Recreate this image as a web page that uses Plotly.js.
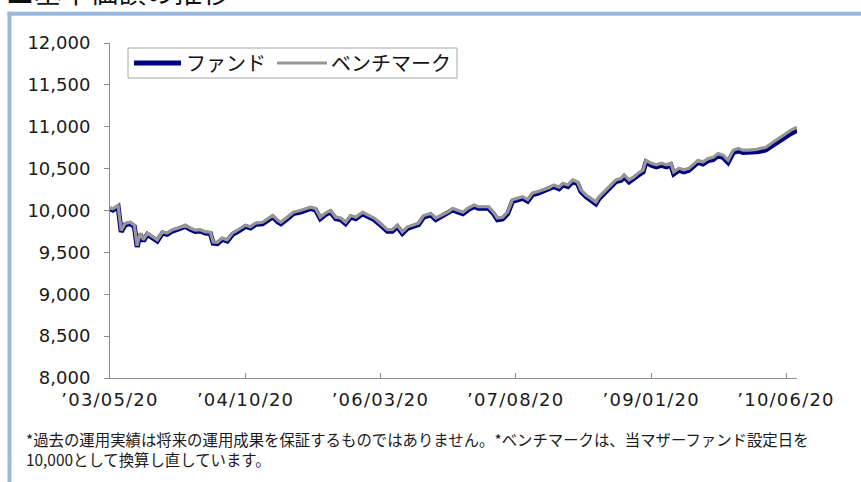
<!DOCTYPE html>
<html>
<head>
<meta charset="utf-8">
<script src="https://cdn.plot.ly/plotly-3.0.1.min.js"></script>
<style>
  html, body { margin: 0; padding: 0; background: #ffffff; }
  #chart { width: 861px; height: 482px; }
  .xtick text { letter-spacing: 1.2px; }
</style>
</head>
<body>
<div id="chart"></div>
<script>
// ---- data ----
const dates = [
"2003-05-20","2003-05-31","2003-06-20","2003-07-02","2003-07-17","2003-08-05","2003-08-21","2003-09-01","2003-09-12","2003-09-25",
"2003-10-10","2003-10-29","2003-11-17","2003-12-07","2003-12-25","2004-01-14","2004-02-06","2004-03-04","2004-03-22","2004-04-10",
"2004-04-30","2004-05-19","2004-06-07","2004-06-18","2004-07-04","2004-07-23","2004-08-11","2004-08-31","2004-09-23","2004-10-20",
"2004-11-08","2004-11-28","2004-12-24","2005-01-16","2005-02-01","2005-02-21","2005-03-04","2005-03-29","2005-04-21","2005-05-18",
"2005-06-06","2005-06-25","2005-07-15","2005-08-02","2005-08-22","2005-09-10","2005-09-30","2005-10-19","2005-11-07","2005-11-27",
"2005-12-16","2006-01-11","2006-02-04","2006-02-24","2006-03-15","2006-03-28","2006-04-16","2006-05-05","2006-05-24","2006-06-12",
"2006-07-02","2006-07-21","2006-08-13","2006-09-02","2006-09-29","2006-10-18","2006-11-06","2006-12-03","2006-12-22","2007-01-10",
"2007-01-30","2007-02-18","2007-03-14","2007-03-30","2007-04-18","2007-05-08","2007-05-27","2007-06-11","2007-07-01","2007-07-20",
"2007-08-08","2007-08-28","2007-09-16","2007-10-05","2007-10-24","2007-11-12","2007-12-06","2007-12-25","2008-01-13","2008-02-02",
"2008-02-17","2008-03-07","2008-03-26","2008-04-13","2008-04-26","2008-05-15","2008-06-03","2008-06-22","2008-07-04","2008-07-23",
"2008-08-07","2008-08-27","2008-09-07","2008-09-27","2008-10-08","2008-10-27","2008-11-15","2008-12-01","2008-12-20","2008-12-31",
"2009-01-20","2009-02-08","2009-02-28","2009-03-19","2009-04-05","2009-04-16","2009-05-06","2009-05-25","2009-06-13","2009-06-29",
"2009-07-18","2009-08-06","2009-08-26","2009-09-14","2009-10-03","2009-10-22","2009-11-10","2009-11-30","2009-12-19","2010-01-07",
"2010-01-31","2010-02-27","2010-03-18","2010-04-04","2010-04-24","2010-05-13","2010-06-01","2010-06-20","2010-07-09","2010-08-01"
];

const benchmark = [
10030,10020,10060,9760,9845,9860,9825,9580,9730,9650,
9730,9685,9650,9745,9730,9770,9790,9825,9790,9765,
9770,9745,9740,9625,9620,9670,9650,9730,9770,9825,
9805,9850,9860,9910,9940,9880,9860,9920,9980,10000,
10025,10040,10025,9920,9970,10000,9920,9910,9860,9940,
9920,9980,9940,9910,9860,9825,9770,9770,9825,9745,
9805,9825,9850,9940,9965,9910,9940,9980,10025,10000,
9980,10025,10065,10045,10045,10045,9980,9910,9920,9980,
10130,10150,10165,10130,10210,10225,10250,10270,10305,10280,
10325,10305,10365,10340,10245,10185,10145,10100,10160,10220,
10265,10325,10365,10385,10425,10365,10400,10445,10485,10600,
10565,10545,10565,10545,10565,10460,10505,10485,10505,10545,
10600,10580,10620,10635,10680,10660,10600,10720,10740,10720,
10720,10730,10740,10755,10800,10840,10875,10920,10960,10995
];

const fund = [
10020,10005,10045,9745,9830,9845,9810,9565,9715,9635,
9715,9670,9635,9730,9715,9755,9775,9810,9775,9750,
9755,9730,9725,9610,9605,9655,9635,9715,9755,9810,
9790,9835,9842,9892,9922,9862,9842,9902,9962,9982,
10007,10022,10007,9902,9952,9982,9902,9892,9842,9922,
9902,9962,9922,9892,9842,9807,9752,9752,9807,9727,
9787,9807,9832,9922,9947,9892,9922,9962,10007,9982,
9962,10007,10047,10027,10027,10027,9962,9890,9900,9960,
10110,10130,10145,10110,10190,10205,10230,10250,10285,10260,
10305,10285,10345,10320,10225,10165,10125,10080,10140,10200,
10245,10305,10345,10362,10402,10342,10377,10422,10462,10577,
10540,10520,10540,10520,10540,10435,10480,10460,10480,10520,
10575,10555,10595,10608,10653,10633,10573,10692,10712,10692,
10692,10702,10710,10722,10765,10805,10838,10882,10920,10955
];

const seriesNames = ["ファンド", "ベンチマーク"];
const seriesColors = ["#000080", "#969696"];

const xTickVals = ["2003-05-20","2004-10-20","2006-03-20","2007-08-20","2009-01-20","2010-06-20"];
const xTickText = ["’03/05/20","’04/10/20","’06/03/20","’07/08/20","’09/01/20","’10/06/20"];
const yTickVals = [8000,8500,9000,9500,10000,10500,11000,11500,12000];

const titleText = "■基準価額の推移";
const noteText = "*過去の運用実績は将来の運用成果を保証するものではありません。*ベンチマークは、当マザーファンド設定日を<br>10,000として換算し直しています。";

// ---- geometry helpers (pixel -> paper) ----
const W = 861, H = 482;
const M = {l: 110, r: 64, t: 43, b: 104};
const PW = W - M.l - M.r, PH = H - M.t - M.b;
const px = x => (x - M.l) / PW;
const py = y => (H - M.b - y) / PH;

const traces = [
  {x: dates, y: fund, name: seriesNames[0], type: "scatter", mode: "lines",
   line: {color: seriesColors[0], width: 5}, showlegend: false, hoverinfo: "skip"},
  {x: dates, y: benchmark, name: seriesNames[1], type: "scatter", mode: "lines",
   line: {color: seriesColors[1], width: 3.2}, showlegend: false, hoverinfo: "skip"}
];

const frameColor = "#9bb8dc";
const layout = {
  width: W, height: H,
  margin: M,
  paper_bgcolor: "#ffffff",
  plot_bgcolor: "#ffffff",
  showlegend: false,
  font: {family: "DejaVu Sans, sans-serif", color: "#1a1a1a"},
  xaxis: {
    type: "date",
    range: ["2003-05-20", "2010-08-01"],
    tickmode: "array", tickvals: xTickVals, ticktext: xTickText,
    ticks: "inside", ticklen: 5, tickcolor: "#8c8c8c", tickwidth: 1,
    showline: true, linecolor: "#8c8c8c", linewidth: 1,
    showgrid: false, zeroline: false,
    tickfont: {family: "DejaVu Sans, sans-serif", size: 18, color: "#1a1a1a"},
    ticklabelstandoff: 5
  },
  yaxis: {
    range: [8000, 12000],
    tickmode: "array", tickvals: yTickVals,
    tickformat: ",d",
    ticks: "outside", ticklen: 5, tickcolor: "#8c8c8c", tickwidth: 1,
    showline: true, linecolor: "#8c8c8c", linewidth: 1,
    showgrid: false, zeroline: false,
    tickfont: {family: "DejaVu Sans, sans-serif", size: 18, color: "#1a1a1a"},
    ticklabelstandoff: 10
  },
  shapes: [
    // outer frame (left and top)
    {type: "line", xref: "paper", yref: "paper", x0: px(9.5), x1: px(9.5), y0: py(11.7), y1: py(500),
     line: {color: frameColor, width: 4}},
    {type: "line", xref: "paper", yref: "paper", x0: px(7.5), x1: px(880), y0: py(13.7), y1: py(13.7),
     line: {color: frameColor, width: 4}},
    // legend box
    {type: "rect", xref: "paper", yref: "paper", x0: px(128), x1: px(457), y0: py(78), y1: py(48),
     line: {color: "#a6a6a6", width: 1}, fillcolor: "#ffffff"},
    {type: "line", xref: "paper", yref: "paper", x0: px(134), x1: px(181), y0: py(63), y1: py(63),
     line: {color: seriesColors[0], width: 5}},
    {type: "line", xref: "paper", yref: "paper", x0: px(277), x1: px(327), y0: py(63), y1: py(63),
     line: {color: seriesColors[1], width: 3}}
  ],
  annotations: [
    {text: seriesNames[0], xref: "paper", yref: "paper", x: px(184), y: py(63),
     xanchor: "left", yanchor: "middle", showarrow: false,
     font: {family: "Noto Sans CJK JP", size: 20, color: "#111111"}},
    {text: seriesNames[1], xref: "paper", yref: "paper", x: px(329), y: py(63),
     xanchor: "left", yanchor: "middle", showarrow: false,
     font: {family: "Noto Sans CJK JP", size: 20, color: "#111111"}},
    {text: titleText, xref: "paper", yref: "paper", x: px(4), y: py(-9),
     xanchor: "left", yanchor: "middle", showarrow: false,
     font: {family: "Noto Sans CJK JP", size: 28, color: "#111111"}},
    {text: noteText, xref: "paper", yref: "paper", x: px(24), y: py(448.5),
     xanchor: "left", yanchor: "middle", align: "left", showarrow: false,
     font: {family: "Noto Sans CJK JP", size: 15.4, color: "#1a1a1a"}}
  ]
};

Plotly.newPlot("chart", traces, layout, {staticPlot: true, displayModeBar: false});
</script>
</body>
</html>
